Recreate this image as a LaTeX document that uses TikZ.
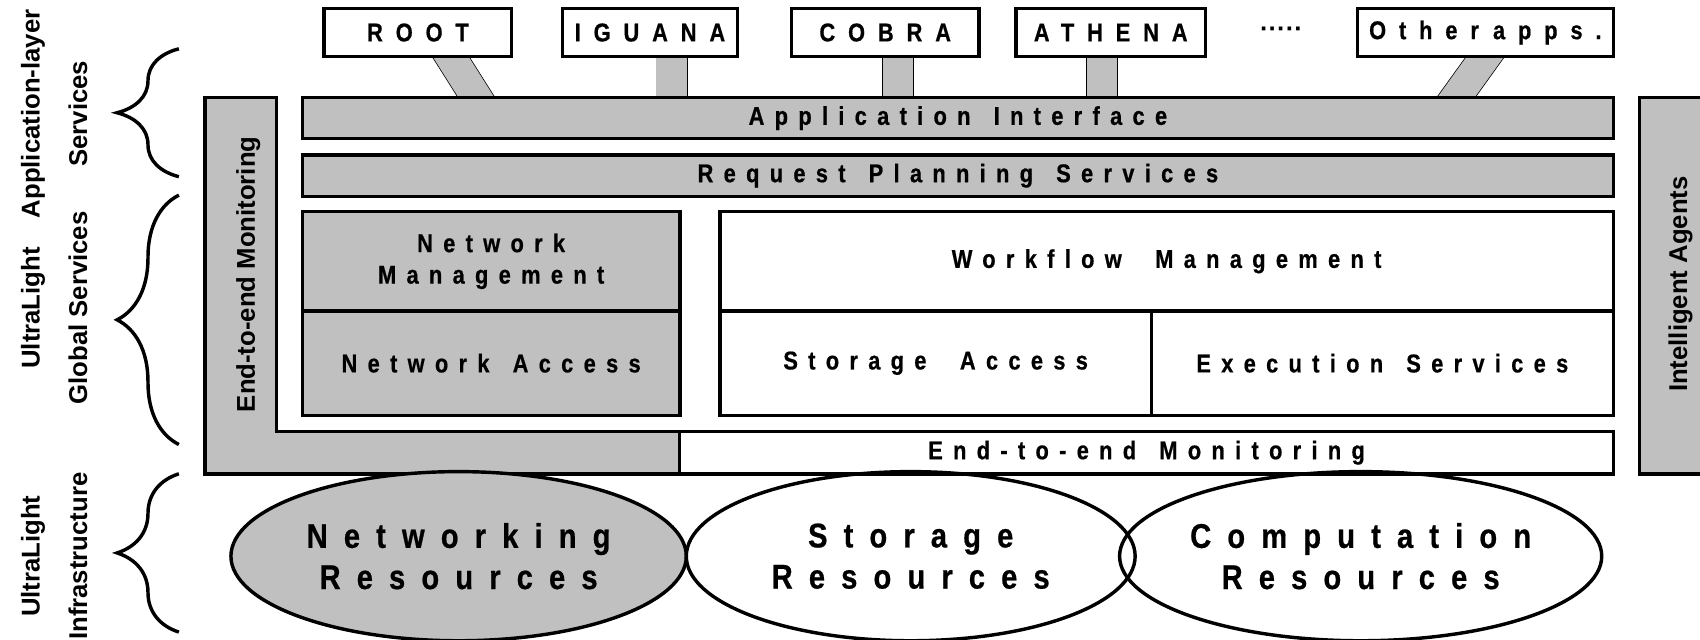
\documentclass[tikz,border=0pt]{standalone}
\usepackage{fontspec}
\setmainfont{Liberation Sans}
\newfontfamily\spaced{Liberation Sans}[LetterSpace=40,FakeStretch=0.85,BoldFeatures={FakeBold=0.6}]
\newfontfamily\widespaced{Liberation Sans}[LetterSpace=50,FakeStretch=0.85,BoldFeatures={FakeBold=0.6}]
\newfontfamily\bigspaced{Liberation Sans}[LetterSpace=47,FakeStretch=0.85,BoldFeatures={FakeBold=0.6}]
\usetikzlibrary{shapes.geometric,decorations.pathreplacing,backgrounds,calc}
\definecolor{panel}{HTML}{C0C0C0}
\newcommand\wgap{\hspace{0.9em}}
\tikzset{
  box/.style={draw, fill=white, align=center, inner sep=0pt,
    font=\spaced\bfseries\fontsize{13.5}{16.5}\selectfont},
  greybox/.style={box, fill=panel},
  appbox/.style={box, minimum height=8.8mm,
    font=\widespaced\bfseries\fontsize{13.5}{15}\selectfont},
  res/.style={ellipse, draw, minimum height=31.2mm, align=center, inner sep=0pt,
    font=\bigspaced\bfseries\fontsize{18}{21.6}\selectfont},
  side/.style={rotate=90, align=center, font=\bfseries\fontsize{13.5}{25}\selectfont},
  pipe/.style={draw=black, double=panel, double distance=5.6mm,
    shorten <=-4mm, shorten >=-4mm},
  curly/.style={decorate, decoration={brace, amplitude=11.4mm}}
}

\begin{document}
\begin{tikzpicture}[x=0.2mm, y=-0.2mm, line width=1.8pt]
\useasboundingbox (0,0) rectangle (1568,590);
\clip (0,0) rectangle (1568,590);
\node[appbox, minimum width=34.6mm] (root) at (385.5,30) {ROOT};
\node[appbox, minimum width=32.2mm] (iguana) at (599.5,30) {IGUANA};
\node[appbox, minimum width=34.6mm] (cobra) at (816.5,30) {COBRA};
\node[appbox, minimum width=35mm] (athena) at (1024.5,30) {ATHENA};
\node[font=\bfseries\fontsize{13.5}{15}\selectfont] (more) at (1182,30) {·····};
\node[appbox, minimum width=47.2mm] (other) at (1370,30) {Other\hspace{0.55em}apps.};
\node[greybox, minimum width=241.8mm, minimum height=7.6mm] (api) at (883.5,109) {Application\wgap{}Interface};
\node[greybox, minimum width=241.8mm, minimum height=7.6mm] (rps) at (883.5,162) {Request\wgap{}Planning\wgap{}Services};
\begin{scope}[on background layer]
\draw[pipe] ($(root.south)+(31,0)$) -- ($(root.south |- api.north)+(53,0)$);
\draw[pipe] ($(iguana.south)+(20,0)$) -- ($(iguana.south |- api.north)+(20,0)$);
\draw[pipe] ($(cobra.south)+(12,0)$) -- ($(cobra.south |- api.north)+(12,0)$);
\draw[pipe] ($(athena.south)+(-8,0)$) -- ($(athena.south |- api.north)+(-8,0)$);
\draw[pipe] ($(other.south)+(-1,0)$) -- ($(other.south |- api.north)+(-26,0)$);
\end{scope}
\draw[fill=panel] (189,90) -- (255,90) -- (255,398) -- (627,398) -- (627,437) -- (189,437) -- cycle;
\node[font=\bfseries\fontsize{13.5}{16}\selectfont, rotate=90] (e2eside) at (229,253) {End-to-end Monitoring};
\node[greybox, minimum width=69.6mm, minimum height=18.4mm] (netman) at (453,241) {Network\\Management};
\node[greybox, minimum width=69.6mm, minimum height=19.2mm] (netacc) at (453,335) {Network\wgap{}Access};
\node[box, minimum width=164.8mm, minimum height=18.4mm] (wfm) at (1076,241) {Workflow\hspace{1.3em}Management};
\node[box, minimum width=79.6mm, minimum height=19.2mm] (stacc) at (863,335) {Storage\hspace{1.3em}Access};
\node[box, minimum width=85.2mm, minimum height=19.2mm] (exec) at (1275,335) {Execution\wgap{}Services};
\node[box, minimum width=172.2mm, minimum height=7.8mm] (mon) at (1057.5,417.5) {End-to-end\wgap{}Monitoring};
\draw[fill=panel] (1512,90) rectangle (1600,437);
\node[side] (agents) at (1550,262) {Intelligent Agents};
\node[res, fill=panel, minimum width=84mm] (netres) at (423,513) {Networking\\Resources};
\node[res, minimum width=82.8mm] (stores) at (840,513) {Storage\\Resources};
\node[res, minimum width=86mm] (compres) at (1255,513) {Computation\\Resources};
\draw[curly] (165,163) -- (165,45);
\draw[curly] (165,410) -- (165,180);
\draw[curly] (165,583) -- (165,437);
\node[side] (applbl) at (50,105) {Application-layer\\Services};
\node[side] (globlbl) at (50,284) {UltraLight\\Global Services};
\node[side] (infralbl) at (50,513) {UltraLight\\Infrastructure};
\end{tikzpicture}
\end{document}
